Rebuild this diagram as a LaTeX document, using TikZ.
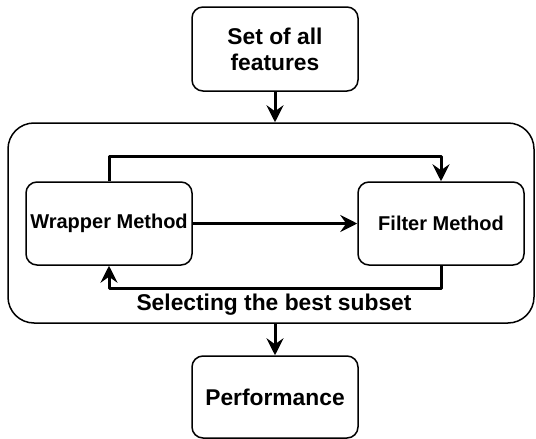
\documentclass[tikz,border=0pt]{standalone}
\usepackage{fontspec}
\setmainfont{Liberation Sans}
\usepackage{tikz}
\usetikzlibrary{arrows.meta}

\begin{document}
\begin{tikzpicture}[x=1pt,y=-1pt,>={Stealth[length=17pt,width=17pt,inset=6pt]},line join=round,
  box/.style={draw,line width=1.5pt,rounded corners=11pt,align=center,inner sep=0pt},
  bigfont/.style={font=\fontsize{22.8}{26}\selectfont\bfseries},
  smallfont/.style={font=\fontsize{20}{23}\selectfont\bfseries},
  flow/.style={->,line width=3pt}]
\useasboundingbox (0,0) rectangle (536,439);
\node[box,bigfont,minimum width=166pt,minimum height=84pt] (feats) at (275,49) {Set of all\\features};
\node[box,rounded corners=26pt,minimum width=526pt,minimum height=200pt] (sel) at (271,223) {};
\node[box,smallfont,minimum width=166pt,minimum height=83pt] (wrap) at (109,223.5) {Wrapper Method};
\node[box,smallfont,minimum width=166pt,minimum height=83pt] (filt) at (441,223.5) {Filter Method};
\node[box,bigfont,minimum width=166pt,minimum height=82pt] (perf) at (275,397) {Performance};
\node[bigfont] (lbl) at (274,305) {Selecting the best subset};
\coordinate (top) at (275,156);
\coordinate (bot) at (275,288);
\draw[flow] (feats) -- (feats.south |- sel.north);
\draw[flow] (perf.north |- sel.south) -- (perf);
\draw[flow] (wrap) -- (filt);
\draw[flow] (wrap.north) |- (top) -| (filt.north);
\draw[flow] (filt.south) |- (bot) -| (wrap.south);
\end{tikzpicture}
\end{document}
